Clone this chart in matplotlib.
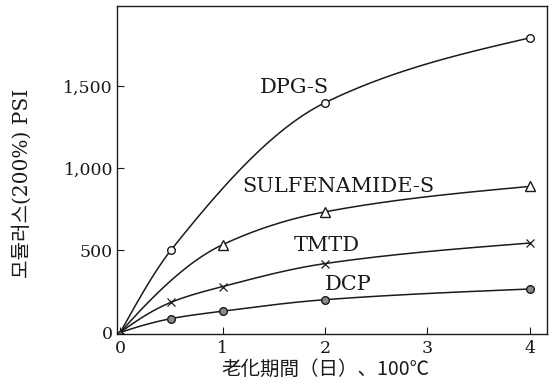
import numpy as np
import matplotlib
matplotlib.use("Agg")
import matplotlib.pyplot as plt

# Aging time (days) at 100 °C and 200% modulus (psi) for each accelerator
days_dpg = [0, 0.5, 2, 4]
dpg_s = [0, 505, 1400, 1795]

days_sulf = [0, 1, 2, 4]
sulfenamide_s = [0, 535, 735, 890]

days_tmtd = [0, 0.5, 1, 2, 4]
tmtd = [0, 185, 280, 420, 545]

days_dcp = [0, 0.5, 1, 2, 4]
dcp = [0, 85, 130, 200, 265]

x_ticks = [0, 1, 2, 3, 4]
y_ticks = [0, 500, 1000, 1500]
y_tick_labels = ["0", "500", "1,000", "1,500"]


def smooth_curve(x, y, xs):
    """Concave cubic Hermite curve through the points."""
    x = np.asarray(x, float)
    y = np.asarray(y, float)
    h = np.diff(x)
    d = np.diff(y) / h
    n = len(x)
    m = np.zeros(n)
    for k in range(1, n - 1):
        w1 = 2 * h[k] + h[k - 1]
        w2 = h[k] + 2 * h[k - 1]
        m[k] = (w1 + w2) / (w1 / d[k - 1] + w2 / d[k])
    m[0] = min(d[0] + (d[0] - d[1]) * h[0] / (h[0] + h[1]), 3 * d[0])
    m[-1] = max(min(d[-1], (3 * d[-1] - m[-2]) / 2), 0)
    idx = np.clip(np.searchsorted(x, xs) - 1, 0, n - 2)
    t = (xs - x[idx]) / h[idx]
    h00 = 2 * t**3 - 3 * t**2 + 1
    h10 = t**3 - 2 * t**2 + t
    h01 = -2 * t**3 + 3 * t**2
    h11 = t**3 - t**2
    return h00 * y[idx] + h10 * h[idx] * m[idx] + h01 * y[idx + 1] + h11 * h[idx] * m[idx + 1]


plt.rcParams["font.family"] = ["DejaVu Serif"]

fig = plt.figure(figsize=(5.55, 3.89), dpi=100)
ax = fig.add_axes([0.211, 0.141, 0.775, 0.844])

ink = "#1a1a1a"
series = [
    (days_dpg, dpg_s, dict(marker="o", mfc="white", mec=ink, ms=5.5)),
    (days_sulf, sulfenamide_s, dict(marker="^", mfc="white", mec=ink, ms=6.5)),
    (days_tmtd, tmtd, dict(marker="x", mec=ink, ms=5.5, mew=0.9)),
    (days_dcp, dcp, dict(marker="o", mfc="#8a8a8a", mec=ink, ms=5.5)),
]

for xs, ys, mk in series:
    xx = np.linspace(xs[0], xs[-1], 300)
    ax.plot(xx, smooth_curve(xs, ys, xx), color=ink, lw=1.1)
    ax.plot(xs[1:], ys[1:], ls="none", **mk)

ax.plot([0], [0], marker="o", ms=3, color="#777777", mec=ink)

fs = 15
ax.text(1.70, 1490, "DPG-S", ha="center", va="center", fontsize=fs, color=ink)
ax.text(2.13, 888, "SULFENAMIDE-S", ha="center", va="center", fontsize=fs, color=ink)
ax.text(2.02, 527, "TMTD", ha="center", va="center", fontsize=fs, color=ink)
ax.text(2.23, 293, "DCP", ha="center", va="center", fontsize=fs, color=ink)

ax.set_xlim(-0.03, 4.17)
ax.set_ylim(-10, 1990)
ax.set_xticks(x_ticks)
ax.set_xticklabels([str(t) for t in x_ticks])
ax.set_yticks(y_ticks)
ax.set_yticklabels(y_tick_labels)
ax.tick_params(direction="in", length=5, width=0.8, labelsize=12.5, colors=ink)
ax.tick_params(axis="x", pad=4)
ax.tick_params(axis="y", pad=3)
for s in ax.spines.values():
    s.set_linewidth(1.0)
    s.set_color(ink)

ax.set_ylabel("모듈러스(200%) PSI", family=["DejaVu Serif", "Noto Sans CJK KR"],
              fontsize=14.5, color=ink)
ax.yaxis.label.set_va("center")
ax.yaxis.set_label_coords(-0.221, 0.46)

ax.set_xlabel("老化期間（日）、100℃", family=["Noto Sans CJK JP", "DejaVu Sans"],
              fontsize=14, color=ink)
ax.xaxis.label.set_va("center")
ax.xaxis.set_label_coords(0.484, -0.107)

fig.savefig("out.png", dpi=100)
